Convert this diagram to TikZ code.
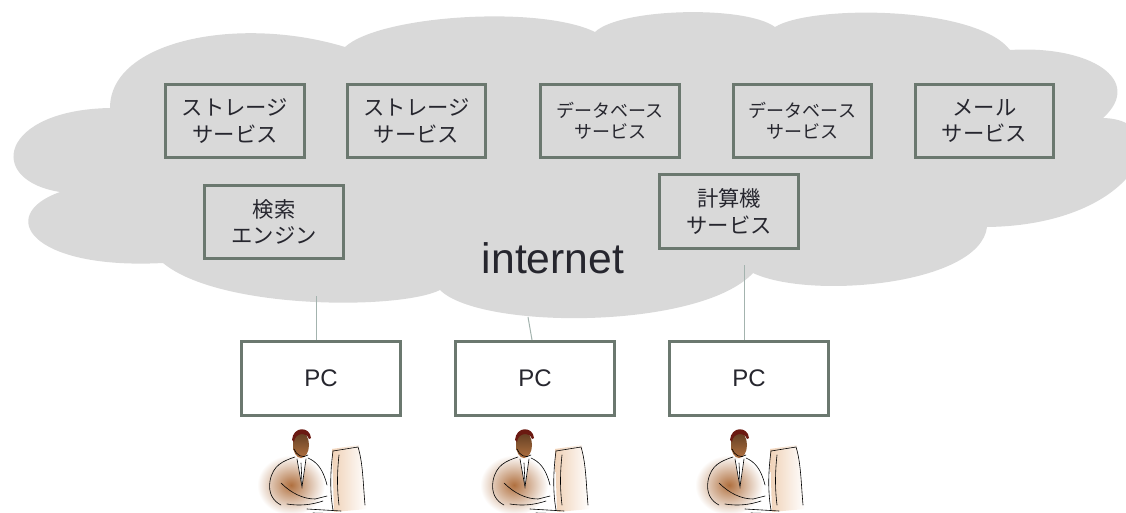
\documentclass[tikz,border=0pt]{standalone}
\usepackage{fontspec}
\setmainfont{Liberation Sans}
\newfontfamily\jpfont{Noto Sans CJK JP}
\usetikzlibrary{positioning}

\definecolor{cloudgray}{HTML}{D9D9D9}
\definecolor{boxgray}{HTML}{6B786F}
\definecolor{wiregray}{HTML}{A3B3AE}
\definecolor{textdark}{HTML}{26262E}
\definecolor{skin}{HTML}{B0703F}
\definecolor{hair}{HTML}{6B1A12}
\definecolor{screen}{HTML}{F0D2B8}

\tikzset{
  svc/.style={draw=boxgray, line width=2.25pt, minimum width=104pt,
    minimum height=55pt, inner sep=0pt, align=center, text=textdark,
    font=\jpfont\fontsize{16}{20}\selectfont},
  svcsmall/.style={svc, font=\jpfont\fontsize{13.5}{16}\selectfont},
  pcbox/.style={draw=boxgray, line width=2.25pt, minimum width=119pt,
    minimum height=55.5pt, inner sep=0pt, fill=white, text=textdark,
    font=\fontsize{18}{20}\selectfont},
  wire/.style={draw=wiregray, line width=0.75pt},
  ink/.style={draw=black, line width=0.45pt, line cap=round},
  % man at a desk, origin at the middle of the head
  worker/.pic={
    \shade[inner color=skin, outer color=white] (-10,42) ellipse [x radius=34, y radius=30];
    \shade[left color=screen, right color=white] (31,6) -- (58,2) -- (66,66) -- (33,69) -- cycle;
    \shade[top color=skin!55!black, bottom color=skin] (0,2) ellipse [x radius=8, y radius=13];
    \draw[ink] (-7,6) .. controls (-5,12) and (2,16) .. (7,12);
    \fill[hair] (-9,-3) .. controls (-8,-17) and (9,-17) .. (10,-5)
      -- (8,-4) .. controls (6,-11) and (-6,-11) .. (-7,-1) -- cycle;
    \fill[white] (-4,16) -- (5,16) -- (1,44) -- cycle;
    \draw[ink] (-4,16) -- (1,44) -- (5,16);
    \draw[ink] (0,20) -- (1,40);
    \draw[ink] (-6,14) .. controls (-18,18) and (-28,22) .. (-31,38)
      .. controls (-33,50) and (-28,58) .. (-20,62);
    \draw[ink] (7,15) .. controls (16,19) and (22,26) .. (26,42);
    \draw[ink] (-20,40) .. controls (-10,50) and (2,56) .. (14,56) -- (26,53);
    \draw[ink] (-14,61) .. controls (-2,63) and (10,62) .. (22,58);
    \draw[ink] (32,8) .. controls (29,30) and (29,50) .. (32,67);
    \draw[ink] (32,8) -- (57,4) .. controls (62,20) and (62,40) .. (64,62);
    \draw[ink] (38,12) .. controls (36,30) and (36,46) .. (38,62);
    \draw[ink] (6,66) -- (40,68) (12,70) -- (46,71);
  }
}

\begin{document}
\begin{tikzpicture}[x=0.75pt, y=-0.75pt]
      \useasboundingbox (0,0) rectangle (1126,513);
      \clip (0,0) rectangle (1126,513);
      % the cloud
      \fill[cloudgray] (110,108)
        .. controls (110,40) and (240,15) .. (345,47)
        .. controls (380,15) and (540,5) .. (595,32)
        .. controls (620,8) and (745,5) .. (775,27)
        .. controls (810,5) and (975,5) .. (1010,50)
        .. controls (1090,45) and (1145,80) .. (1103,118)
        .. controls (1180,120) and (1140,225) .. (987,227)
        .. controls (980,285) and (810,300) .. (753,273)
        .. controls (700,330) and (480,330) .. (440,290)
        .. controls (400,310) and (220,310) .. (163,263)
        .. controls (30,270) and (-5,215) .. (60,192)
        .. controls (-15,180) and (0,110) .. (110,108) -- cycle;
      \path
        (235,121) node[svc] (st1){ストレージ\\サービス}
        (416.5,121) node[svc] (st2){ストレージ\\サービス}
        (610,121) node[svcsmall] (db1){データベース\\サービス}
        (802.5,121) node[svcsmall] (db2){データベース\\サービス}
        (984.5,121) node[svc] (mail){メール\\サービス}
        (274,222) node[svc] (search){検索\\エンジン}
        (729,211.5) node[svc] (calc){計算機\\サービス}
        (553,273) node[anchor=base, text=textdark, font=\fontsize{32}{36}\selectfont] (net){internet};
      \path
        (321,378.5) node[pcbox] (pc1){PC}
        (535,378.5) node[pcbox] (pc2){PC}
        (749,378.5) node[pcbox] (pc3){PC};
      \coordinate (up1) at (316,296);
      \coordinate (up2) at (528,317);
      \coordinate (up3) at (744,265);
      \begin{scope}[wire]
        \draw (up1) to ([xshift=-3.75pt]pc1.north);
        \draw (up2) to ([xshift=-2.25pt]pc2.north);
        \draw (up3) to ([xshift=-3.75pt]pc3.north);
      \end{scope}
      \pic at (301,443) {worker};
      \pic at (524,443) {worker};
      \pic at (739,443) {worker};
    \end{tikzpicture}
\end{document}
